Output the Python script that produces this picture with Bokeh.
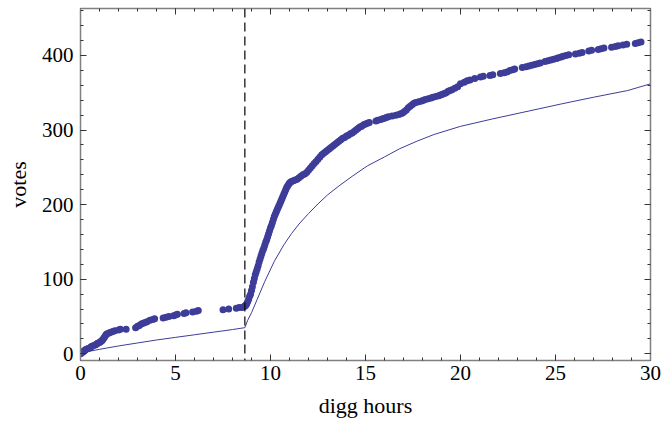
from bokeh.plotting import figure
from bokeh.models import LinearAxis, FixedTicker, Span, Range1d, CustomJSTickFormatter
from bokeh.embed import file_html
from bokeh.resources import INLINE

# ---- data ----
vote_hours = [
    0.0, 0.05, 0.1, 0.15, 0.2, 0.25, 0.3, 0.4, 0.5, 0.55, 0.6, 0.7, 0.8, 0.85, 0.9, 1.0,
    1.05, 1.1, 1.15, 1.2, 1.25, 1.3, 1.35, 1.4, 1.5, 1.6, 1.7, 1.8, 2.0, 2.1,
    2.4, 2.9, 3.0, 3.1, 3.2, 3.3, 3.4, 3.5, 3.65, 3.8, 3.9, 4.35, 4.5, 4.65, 4.9, 5.0,
    5.1, 5.45, 5.55, 5.9, 6.1, 6.2, 7.5, 7.8, 8.2, 8.35, 8.5, 8.6,
    8.65, 8.7, 8.75, 8.8, 8.85, 8.9, 8.95, 9.0, 9.05, 9.1, 9.15, 9.2, 9.25, 9.3, 9.35,
    9.4, 9.45, 9.5, 9.55, 9.6, 9.65, 9.7, 9.75, 9.8, 9.85, 9.9, 9.95, 10.0, 10.05, 10.1,
    10.15, 10.2, 10.25, 10.3, 10.35, 10.4, 10.45, 10.5, 10.55, 10.6, 10.65, 10.7, 10.75,
    10.8, 10.85, 10.9, 10.95, 11.0, 11.05, 11.1, 11.2, 11.3, 11.4, 11.5, 11.6, 11.7,
    11.8, 11.9, 12.0, 12.1, 12.2, 12.3, 12.4, 12.5, 12.6, 12.7, 12.8, 12.9, 13.0, 13.1,
    13.2, 13.3, 13.4, 13.5, 13.6, 13.7, 13.8, 13.9, 14.0, 14.1, 14.2, 14.3, 14.4, 14.5,
    14.6, 14.7, 14.8, 14.9, 15.0, 15.1, 15.2, 15.55, 15.65, 15.8, 15.9, 16.0, 16.1, 16.2,
    16.4, 16.6, 16.75, 16.85, 16.95, 17.05, 17.15, 17.25, 17.35, 17.45, 17.55, 17.65,
    17.8, 17.95, 18.05, 18.15, 18.3, 18.45, 18.55, 18.7, 18.85, 18.95, 19.05, 19.15,
    19.25, 19.35, 19.45, 19.55, 19.7, 19.85, 20.0, 20.2, 20.35, 20.5, 20.75, 21.05,
    21.2, 21.55, 21.7, 22.1, 22.3, 22.45, 22.6, 22.75, 22.85, 23.25, 23.45, 23.6, 23.75,
    23.9, 24.05, 24.2, 24.45, 24.6, 24.75, 24.9, 25.05, 25.15, 25.3, 25.4, 25.55, 25.7,
    26.05, 26.25, 26.4, 26.75, 26.9, 27.25, 27.4, 27.55, 27.95, 28.15, 28.3, 28.55,
    28.75, 29.2, 29.35, 29.5,
]
vote_counts = [
    0, 1, 2, 3, 4, 5, 6, 7, 8, 9, 10, 11, 12, 13, 14, 15,
    16, 17, 18, 20, 22, 24, 26, 27, 28, 29, 30, 31, 32, 33,
    33, 35, 37, 38, 40, 41, 42, 43, 45, 46, 47, 48, 49, 50, 51, 52,
    53, 54, 55, 56, 57, 58, 59, 60, 61, 62, 62, 63,
    64, 65, 67, 70, 73, 77, 80, 85, 90, 96, 101, 106, 110, 114, 118,
    123, 127, 131, 135, 139, 142, 146, 150, 153, 157, 161, 165, 169, 172, 176,
    180, 184, 187, 190, 193, 196, 199, 202, 205, 208, 211, 214, 217,
    220, 223, 225, 227, 229, 230, 231, 232, 233, 234, 236, 238, 240,
    241, 243, 246, 249, 252, 255, 258, 261, 264, 267, 269, 271, 273, 275,
    277, 279, 281, 283, 285, 287, 289, 290, 292, 293, 295, 296, 298, 300,
    302, 304, 305, 307, 308, 309, 310, 312, 313, 314, 315, 316, 317, 318,
    319, 320, 321, 322, 323, 325, 327, 330, 332, 334, 336, 337,
    338, 339, 340, 341, 342, 343, 344, 345, 346, 347, 348, 349,
    350, 352, 353, 354, 356, 358, 362, 364, 366, 367, 369, 371,
    372, 373, 374, 376, 377, 378, 380, 381, 382, 384, 385, 386, 387,
    388, 389, 390, 392, 393, 394, 395, 396, 397, 398, 399, 400, 401,
    402, 403, 404, 406, 407, 408, 409, 410, 411, 412, 413, 414,
    415, 416, 417, 418,
]
model_hours = [0, 1, 2, 3, 4, 5, 6, 7, 8, 8.65, 8.8, 9.0, 9.3, 9.7, 10.2, 10.7, 11.1,
               11.5, 12.0, 12.5, 13.0, 13.6, 14.3, 15.1, 16.0, 16.8, 17.7, 18.6, 20.0,
               21.7, 23.5, 25.3, 27.0, 28.8, 30.0]
model_votes = [1, 6, 10.5, 14.5, 18.5, 22, 25.5, 29, 32.5, 35, 45, 55, 73, 97, 124, 146,
               161, 174, 188, 201, 213, 225, 238, 252, 264, 275, 285, 294, 305,
               315, 325, 335, 344, 353, 362]
front_page_hour = 8.65

x_major = [0, 5, 10, 15, 20, 25, 30]
x_minor = list(range(0, 31))
y_major = [0, 100, 200, 300, 400]
y_minor = list(range(0, 461, 20))

dot_color = "#3d3d99"
frame_color = "#808080"
tick_color = "#333333"
font = "Liberation Serif"

p = figure(frame_width=570, frame_height=352, output_backend="svg",
           toolbar_location=None, x_range=Range1d(0, 30), y_range=Range1d(-9, 463),
           min_border_left=80, min_border_right=12, min_border_top=8, min_border_bottom=50,
           x_axis_label="digg hours", y_axis_label="votes")
p.grid.visible = False
p.outline_line_color = None
p.background_fill_color = "white"

bottom = p.below[0]
left = p.left[0]

p.line(model_hours, model_votes, line_color=dot_color, line_width=1)
p.scatter(vote_hours, vote_counts, size=7, fill_color=dot_color, line_color=None)
p.add_layout(Span(location=front_page_hour, dimension="height", line_color="black",
                  line_width=1.2, line_dash="9 5"))

top = LinearAxis()
right = LinearAxis()
p.add_layout(top, "above")
p.add_layout(right, "right")

for ax in [bottom, top]:
    ax.ticker = FixedTicker(ticks=x_major, minor_ticks=x_minor)
for ax in [left, right]:
    ax.ticker = FixedTicker(ticks=y_major, minor_ticks=y_minor)

for ax in [bottom, top, left, right]:
    ax.axis_line_color = frame_color
    ax.axis_line_width = 1.5
    ax.major_tick_line_color = tick_color
    ax.minor_tick_line_color = tick_color
    ax.major_tick_in = 6
    ax.major_tick_out = 0
    ax.minor_tick_in = 3
    ax.minor_tick_out = 0
    ax.major_label_text_font = font
    ax.major_label_text_font_size = "21px"
    ax.major_label_text_color = "black"
    ax.axis_label_text_font = font
    ax.axis_label_text_font_size = "22px"
    ax.axis_label_text_font_style = "normal"
    ax.axis_label_text_color = "black"

for ax in [top, right]:
    ax.formatter = CustomJSTickFormatter(code="return '';")
    ax.major_label_standoff = 0

bottom.major_label_standoff = 5
bottom.axis_label_standoff = 10
left.major_label_standoff = 7
left.axis_label_standoff = 8

open("out.html", "w").write(file_html(p, INLINE))
